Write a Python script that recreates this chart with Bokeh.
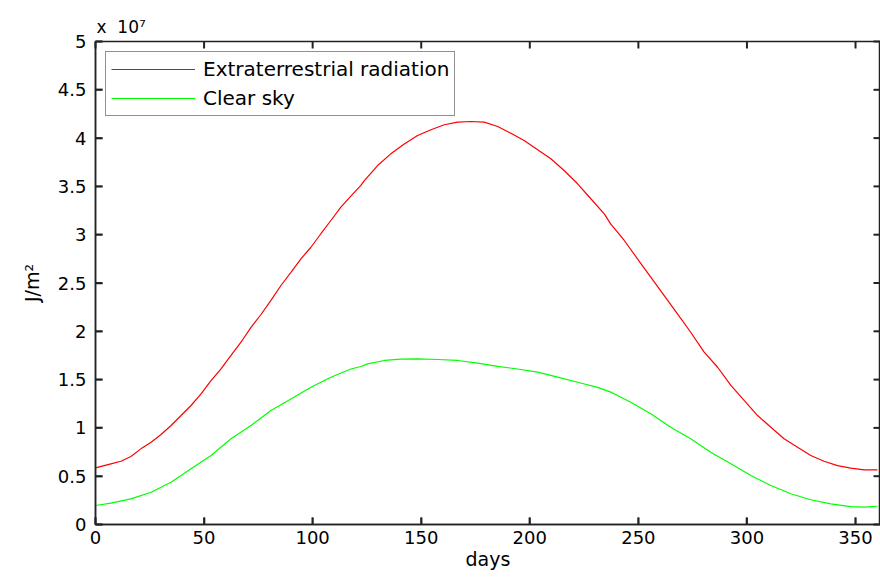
from bokeh.plotting import figure
from bokeh.models import (Range1d, FixedTicker, Legend, LegendItem,
                          CustomJSTickFormatter)
from bokeh.embed import file_html
from bokeh.resources import INLINE

# ---- data (values in units of 10^7 J/m^2) ----
red_days = [0, 7.1, 11.7, 16.3, 20.9, 25.6, 30.2, 34.8, 39.4, 44, 48.6, 53.2,
            57.8, 62.4, 67, 71.6, 76.2, 80.8, 85.4, 90, 94.6, 99.2, 103.8,
            108.4, 113, 117.6, 122.2, 123.8, 129.9, 136, 142.2, 148.3, 154.5,
            160.6, 166.8, 172.9, 179, 185.2, 191.3, 197.4, 203.6, 209.7, 215.8,
            222, 228.1, 234.3, 237.3, 240.4, 243.5, 249.6, 255.7, 261.9, 268,
            274.1, 280.3, 286.5, 292.6, 298.7, 304.9, 311, 317.1, 323.3, 329.4,
            335.5, 341.7, 347.8, 354, 360.1]
red_vals = [0.587, 0.628, 0.655, 0.704, 0.783, 0.852, 0.932, 1.025, 1.128,
            1.232, 1.353, 1.49, 1.61, 1.75, 1.887, 2.04, 2.174, 2.32, 2.474,
            2.61, 2.75, 2.87, 3.01, 3.147, 3.285, 3.40, 3.51, 3.56, 3.716,
            3.837, 3.94, 4.027, 4.086, 4.138, 4.165, 4.172, 4.165, 4.12, 4.05,
            3.975, 3.88, 3.786, 3.665, 3.527, 3.372, 3.216, 3.11, 3.026, 2.94,
            2.75, 2.56, 2.37, 2.18, 1.99, 1.784, 1.628, 1.44, 1.284, 1.128,
            1.007, 0.887, 0.80, 0.714, 0.655, 0.61, 0.583, 0.566, 0.566]
green_days = [0, 7.1, 16.3, 25.6, 34.8, 44, 53.2, 62.4, 71.6, 80.8, 90, 99.2,
              108.4, 117.6, 122.2, 125.3, 133, 140.7, 148.3, 157.6, 166.8,
              176, 185.2, 194.4, 203.6, 212.8, 222, 231.2, 237.3, 240.4, 246.5,
              255.7, 264.9, 274.1, 283.3, 292.6, 301.8, 311, 320.2, 329.4,
              338.6, 347.8, 354, 360.1]
green_vals = [0.197, 0.221, 0.266, 0.334, 0.438, 0.577, 0.714, 0.887, 1.025,
              1.18, 1.30, 1.42, 1.525, 1.61, 1.636, 1.663, 1.698, 1.711, 1.715,
              1.708, 1.698, 1.67, 1.636, 1.61, 1.577, 1.525, 1.473, 1.42, 1.37,
              1.335, 1.266, 1.146, 1.007, 0.887, 0.748, 0.628, 0.507, 0.404,
              0.318, 0.256, 0.214, 0.186, 0.179, 0.189]
x_ticks = [0, 50, 100, 150, 200, 250, 300, 350]
y_ticks = [0, 0.5, 1, 1.5, 2, 2.5, 3, 3.5, 4, 4.5, 5]
series_names = ["Extraterrestrial radiation", "Clear sky"]
scale_text = "x\u00a0\u00a010\u2077"
X_MIN, X_MAX = 0, 361.5
Y_MIN, Y_MAX = 0, 5

FONT = "DejaVu Sans"
FRAME_COLOR = "#222222"
W, H = 880, 581
BORDER_L, BORDER_R, BORDER_T, BORDER_B = 95, 0, 41, 57

p = figure(width=W, height=H, output_backend="svg", toolbar_location=None,
           x_range=Range1d(X_MIN, X_MAX), y_range=Range1d(Y_MIN, Y_MAX),
           min_border_left=BORDER_L, min_border_right=BORDER_R,
           min_border_top=BORDER_T, min_border_bottom=BORDER_B)
p.background_fill_color = "white"
p.border_fill_color = "white"
p.outline_line_color = FRAME_COLOR
p.outline_line_width = 1.5
p.xgrid.visible = False
p.ygrid.visible = False

p.title.text = scale_text
p.title.align = "left"
p.title.offset = 1
p.title.standoff = 10
p.title.text_font = FONT
p.title.text_font_size = "17px"
p.title.text_font_style = "normal"
p.title.text_color = "black"

r1 = p.line(red_days, red_vals, line_color="#ff0000", line_width=1.2)
g1 = p.line(green_days, green_vals, line_color="#00ff00", line_width=1.2)

# inward tick marks on all four sides (7 px long), as segments
TICK_PX = 7
dx = TICK_PX * (X_MAX - X_MIN) / (W - BORDER_L - BORDER_R)
dy = TICK_PX * (Y_MAX - Y_MIN) / (H - BORDER_T - BORDER_B)
nx, ny = len(x_ticks), len(y_ticks)
seg = dict(line_color=FRAME_COLOR, line_width=2, level="overlay")
p.segment(x0=x_ticks, y0=[Y_MIN] * nx, x1=x_ticks, y1=[Y_MIN + dy] * nx, **seg)
p.segment(x0=x_ticks, y0=[Y_MAX] * nx, x1=x_ticks, y1=[Y_MAX - dy] * nx, **seg)
p.segment(x0=[X_MIN] * ny, y0=y_ticks, x1=[X_MIN + dx] * ny, y1=y_ticks, **seg)
p.segment(x0=[X_MAX] * ny, y0=y_ticks, x1=[X_MAX - dx] * ny, y1=y_ticks, **seg)

fmt = CustomJSTickFormatter(code="return String(tick);")

def style_axis(ax, ticks):
    ax.ticker = FixedTicker(ticks=ticks)
    ax.formatter = fmt
    ax.major_tick_in = TICK_PX
    ax.major_tick_out = 0
    ax.major_tick_line_color = FRAME_COLOR
    ax.major_tick_line_width = 1.5
    ax.minor_tick_line_color = None
    ax.axis_line_color = FRAME_COLOR
    ax.axis_line_width = 1.5
    ax.major_label_text_font = FONT
    ax.major_label_text_color = "black"
    ax.major_label_text_font_size = "18px"

xa = p.xaxis[0]
style_axis(xa, x_ticks)
xa.major_label_standoff = 6
xa.axis_label = "days"
xa.axis_label_text_font = FONT
xa.axis_label_text_font_size = "19px"
xa.axis_label_text_font_style = "normal"
xa.axis_label_text_color = "black"
xa.axis_label_standoff = 1

ya = p.yaxis[0]
style_axis(ya, y_ticks)
ya.major_label_standoff = 9
ya.axis_label = "J/m\u00b2"
ya.axis_label_text_font = FONT
ya.axis_label_text_font_size = "19px"
ya.axis_label_text_font_style = "normal"
ya.axis_label_text_color = "black"
ya.axis_label_standoff = 12

legend = Legend(items=[LegendItem(label=series_names[0], renderers=[r1]),
                       LegendItem(label=series_names[1], renderers=[g1])],
                location="top_left", margin=10, padding=5, spacing=5,
                glyph_width=84, glyph_height=22, label_height=22,
                label_standoff=8, label_text_font=FONT,
                label_text_font_size="20px", label_text_color="black",
                border_line_color=FRAME_COLOR, border_line_width=1.5,
                background_fill_color="white", background_fill_alpha=1)
p.add_layout(legend)

open("out.html", "w").write(file_html(p, INLINE))
